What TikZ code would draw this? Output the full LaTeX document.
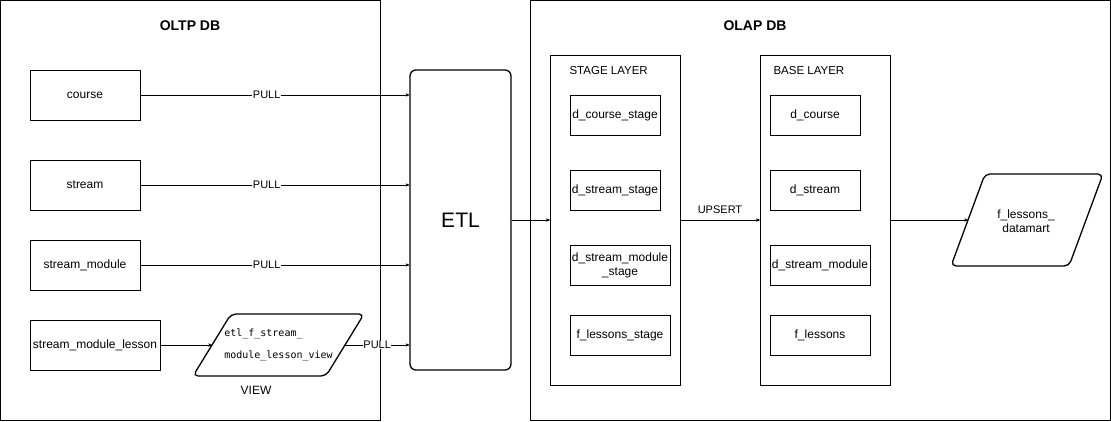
\documentclass[tikz,border=0pt]{standalone}
\usepackage{fontspec}
\setmainfont{Liberation Sans}
\setmonofont{DejaVu Sans Mono}
\usetikzlibrary{arrows}

\begin{document}
\begin{tikzpicture}[x=1pt, y=-1pt, >=stealth', font=\fontsize{12}{14}\selectfont,
    tbl/.style={draw, rectangle, minimum width=110pt, minimum height=50pt, inner sep=1pt},
    stg/.style={draw, rectangle, minimum width=90pt, minimum height=40pt, inner sep=1pt, align=center},
    lyr/.style={draw, rectangle, minimum width=130pt, minimum height=330pt},
    etlbox/.style={draw, line width=1.3pt, rounded corners=6pt, minimum width=101pt, minimum height=300pt, font=\fontsize{21}{24}\selectfont},
    para/.style={draw, line width=1.3pt, rounded corners=5pt},
    lbl/.style={fill=white, inner sep=0.5pt, font=\fontsize{11}{13}\selectfont},
    ttl/.style={font=\fontsize{14}{16}\selectfont\bfseries},
    hdr/.style={anchor=west, font=\fontsize{11.5}{13}\selectfont}]
    \useasboundingbox (0,0) rectangle (1111,421);

    % Frames
    \draw (0.5,0.5) rectangle (380,420);
    \draw (530,0.5) rectangle (1110.5,420);
    \node [ttl] (oltp) at (190,26) {OLTP DB};
    \node [ttl] (olap) at (755,26) {OLAP DB};

    % Nodes {course, stream, stream_module, etc}
    \node [tbl] (course) at (85,95)  {course};
    \node [tbl] (stream) at (85,185) {stream};
    \node [tbl] (smod)   at (85,265) {stream\_module};
    \node [tbl, minimum width=130pt] (sml) at (95,345) {stream\_module\_lesson};
    \draw [para] (193,376) -- (231,314) -- (364,314) -- (326,376) -- cycle;
    \coordinate (viewin)  at (212,345);
    \coordinate (viewout) at (345,345);
    \node [align=left, font=\ttfamily\fontsize{10}{22}\selectfont] (view) at (278.5,345)
           {etl\_f\_stream\_\\module\_lesson\_view};
    \node (viewlbl) at (256,390) {VIEW};
    \node [etlbox] (etl) at (460.5,220) {ETL};

    % Layers
    \node [lyr] (stage) at (615,220) {};
    \node [lyr] (base)  at (825,220) {};
    \node [hdr] (stagelbl) at (566,71) {STAGE LAYER};
    \node [hdr] (baselbl)  at (770,71) {BASE LAYER};
    \node [stg]                      (dcs)  at (615,115) {d\_course\_stage};
    \node [stg]                      (dss)  at (615,190) {d\_stream\_stage};
    \node [stg, minimum width=100pt] (dsms) at (620,265) {d\_stream\_module\\\_stage};
    \node [stg, minimum width=100pt] (fls)  at (620,335) {f\_lessons\_stage};
    \node [stg]                      (dc)   at (815,115) {d\_course};
    \node [stg]                      (ds)   at (815,190) {d\_stream};
    \node [stg, minimum width=100pt] (dsm)  at (820,265) {d\_stream\_module};
    \node [stg, minimum width=100pt] (fl)   at (820,335) {f\_lessons};
    \draw [para] (951,266) -- (985,174) -- (1103,174) -- (1069,266) -- cycle;
    \coordinate (martin) at (968,220);
    \node [align=center] (mart) at (1026,221) {f\_lessons\_\\datamart};

    % Paths
    \path [->] (course) edge node [lbl, pos=0.47] {PULL} (course -| etl.west);
    \path [->] (stream) edge node [lbl, pos=0.47] {PULL} (stream -| etl.west);
    \path [->] (smod)   edge node [lbl, pos=0.47] {PULL} (smod -| etl.west);
    \path [->] (sml)    edge                             (viewin);
    \path [->] (viewout) edge node [lbl] {PULL} (viewout -| etl.west);
    \path [->] (etl)    edge                             (stage);
    \path [->] (stage)  edge node [above=3pt, font=\fontsize{11}{13}\selectfont] {UPSERT} (base);
    \path [->] (base)   edge                             (martin);

\end{tikzpicture}
\end{document}
